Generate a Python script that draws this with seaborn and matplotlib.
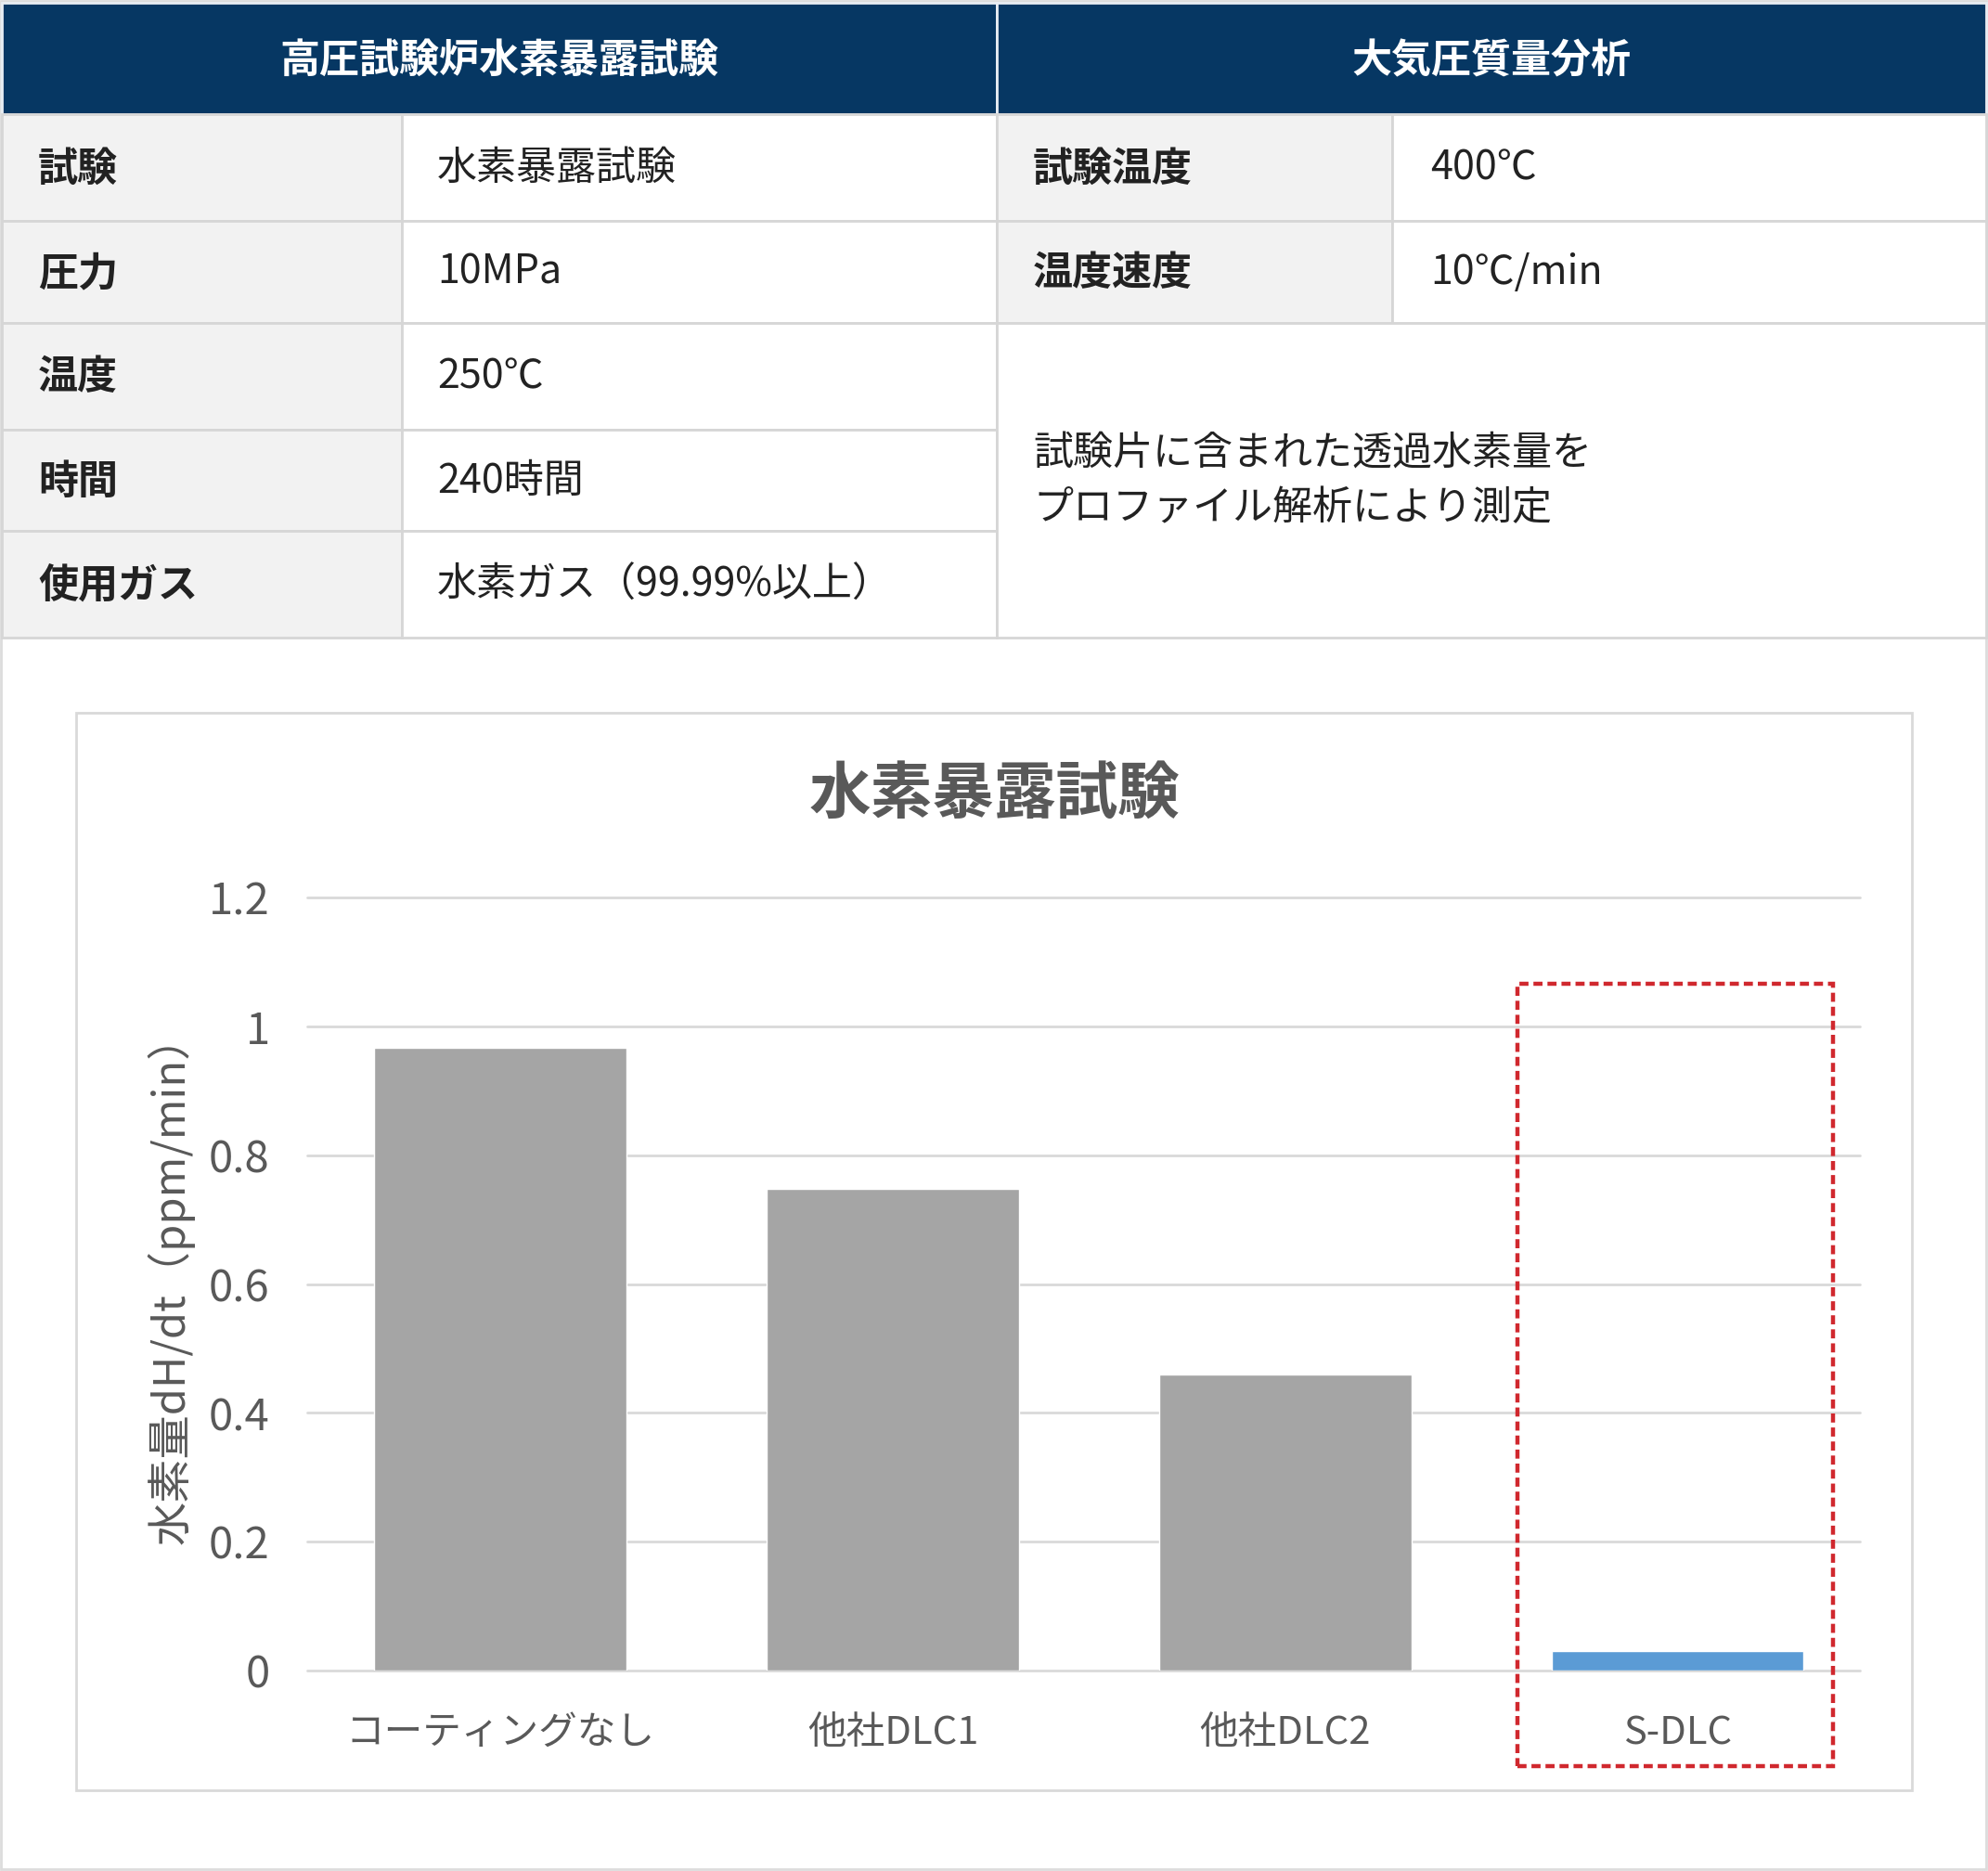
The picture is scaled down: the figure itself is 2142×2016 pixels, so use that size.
import matplotlib
matplotlib.use("Agg")
import matplotlib.pyplot as plt
from matplotlib.patches import Rectangle
import seaborn as sns

# --- table contents ---
left_header = "高圧試験炉水素暴露試験"
right_header = "大気圧質量分析"
left_labels = ["試験", "圧力", "温度", "時間", "使用ガス"]
left_values = ["水素暴露試験", "10MPa", "250℃", "240時間", "水素ガス（99.99%以上）"]
right_labels = ["試験温度", "温度速度"]
right_values = ["400℃", "10℃/min"]
right_note = ["試験片に含まれた透過水素量を", "プロファイル解析により測定"]

# --- chart data ---
chart_title = "水素暴露試験"
categories = ["コーティングなし", "他社DLC1", "他社DLC2", "S-DLC"]
values = [0.966, 0.748, 0.460, 0.030]
bar_colors = ["#a5a5a5", "#a5a5a5", "#a5a5a5", "#5b9bd5"]
y_ticks = [0, 0.2, 0.4, 0.6, 0.8, 1.0, 1.2]
y_tick_labels = ["0", "0.2", "0.4", "0.6", "0.8", "1", "1.2"]
y_label = "水素量dH/dt（ppm/min）"
highlight = "S-DLC"

W, H = 2142, 2016
NAVY = "#063763"
CELL_GRAY = "#f2f2f2"
BORDER = "#d6d6d6"
TEXT = "#222222"
CHART_TEXT = "#595959"

sns.set_theme(style="white")
plt.rcParams["font.family"] = ["Noto Sans CJK JP", "DejaVu Sans"]

fig = plt.figure(figsize=(W / 100, H / 100), dpi=100)
fig.patch.set_facecolor("white")

# background axes in pixel coordinates for the table and frames
bg = fig.add_axes([0, 0, 1, 1], zorder=0)
bg.set_xlim(0, W)
bg.set_ylim(H, 0)
bg.axis("off")


def cell(x0, y0, x1, y1, fc, ec=BORDER, lw=2):
    bg.add_patch(Rectangle((x0, y0), x1 - x0, y1 - y0, facecolor=fc, edgecolor=ec, lw=lw))


# outer frame
bg.add_patch(Rectangle((1, 1), W - 3, H - 3, facecolor="white", edgecolor="#dcdcdc", lw=2))

# headers
cell(2, 3, 1074, 123, NAVY, ec="#e8edf3")
cell(1074, 3, 2140, 123, NAVY, ec="#e8edf3")
bg.text(538, 65, left_header, ha="center", va="center", fontsize=31, weight="bold", color="white")
bg.text(1607, 65, right_header, ha="center", va="center", fontsize=31, weight="bold", color="white")

row_edges = [123, 238, 348, 463, 572, 687]

# left table
for i, (lab, val) in enumerate(zip(left_labels, left_values)):
    y0, y1 = row_edges[i], row_edges[i + 1]
    cell(2, y0, 433, y1, CELL_GRAY)
    cell(433, y0, 1074, y1, "white")
    yc = (y0 + y1) / 2 + 1
    bg.text(41, yc, lab, ha="left", va="center", fontsize=31, weight="bold", color=TEXT)
    bg.text(471, yc, val, ha="left", va="center", fontsize=31, color=TEXT)

# right table
for i, (lab, val) in enumerate(zip(right_labels, right_values)):
    y0, y1 = row_edges[i], row_edges[i + 1]
    cell(1074, y0, 1500, y1, CELL_GRAY)
    cell(1500, y0, 2140, y1, "white")
    yc = (y0 + y1) / 2 + 1
    bg.text(1113, yc, lab, ha="left", va="center", fontsize=31, weight="bold", color=TEXT)
    bg.text(1541, yc, val, ha="left", va="center", fontsize=31, color=TEXT)

cell(1074, row_edges[2], 2140, row_edges[-1], "white")
bg.text(1113, 519, "\n".join(right_note), ha="left", va="center", fontsize=31,
        color=TEXT, linespacing=1.45)

# chart frame and title
bg.add_patch(Rectangle((82, 768), 1978, 1161, facecolor="white", edgecolor="#d9d9d9", lw=2))
bg.text(1072, 856, chart_title, ha="center", va="center", fontsize=48, weight="bold",
        color=CHART_TEXT)

# bar chart
ax = fig.add_axes([331 / W, 1 - 1800 / H, 1673 / W, 833 / H], zorder=1)
ax.patch.set_alpha(0)
sns.barplot(x=categories, y=values, hue=categories, palette=bar_colors, legend=False,
            width=0.643, saturation=1, ax=ax, zorder=3)
ax.set_xlim(-0.493, 3.465)
ax.set_ylim(0, 1.2)
ax.set_yticks(y_ticks)
ax.set_yticklabels(y_tick_labels)
ax.yaxis.grid(True, color="#d9d9d9", lw=2)
ax.set_axisbelow(True)
for gl in ax.get_ygridlines():
    gl.set_clip_on(False)
for s in ax.spines.values():
    s.set_visible(False)
ax.tick_params(axis="y", length=0, pad=29, labelsize=34, labelcolor=CHART_TEXT)
ax.tick_params(axis="x", length=0, pad=34, labelsize=30, labelcolor=CHART_TEXT)
ax.set_xlabel("")
ax.set_ylabel(y_label, fontsize=34, color=CHART_TEXT)
ax.yaxis.set_label_coords(-0.088, 0.506)
ax.yaxis.label.set_va("center")

# red dashed highlight around S-DLC
idx = categories.index(highlight)
ax.add_patch(Rectangle((idx - 0.407, -0.148), 0.804, 1.214, fill=False, edgecolor="#d0282e",
                       lw=3.2, linestyle=(0, (2.2, 1.2)), clip_on=False, zorder=5))

fig.savefig("out.png", dpi=100, facecolor="white")
